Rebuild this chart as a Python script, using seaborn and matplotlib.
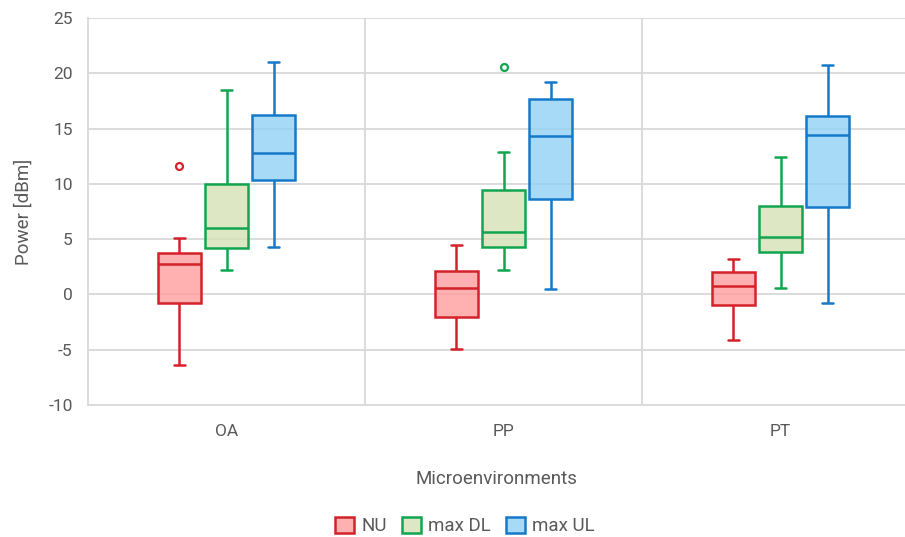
import pandas as pd
import matplotlib.pyplot as plt
import matplotlib.colors as mcolors
import seaborn as sns
from matplotlib.patches import Patch

environments = ['OA', 'PP', 'PT']
series = ['NU', 'max DL', 'max UL']

# five-number summaries: whisker low, Q1, median, Q3, whisker high
nu_stats = [[-6.35, -0.76, 2.72, 3.77, 5.08],
            [-4.96, -2.03, 0.54, 2.11, 4.44],
            [-4.08, -0.97, 0.78, 2.05, 3.17]]
dl_stats = [[2.17, 4.23, 6.04, 9.97, 18.46],
            [2.17, 4.29, 5.62, 9.43, 12.84],
            [0.57, 3.81, 5.17, 7.98, 12.45]]
ul_stats = [[4.32, 10.39, 12.78, 16.20, 21.00],
            [0.45, 8.67, 14.32, 17.65, 19.25],
            [-0.76, 7.89, 14.44, 16.17, 20.76]]

outlier_env = ['OA', 'PP']
outlier_series = ['NU', 'max DL']
outlier_value = [11.6, 20.58]

edge_colors = ['#D3222A', '#12A550', '#1479C9']
fill_colors = ['#FF9C9C', '#D5E2B6', '#90D1F5']

rows = []
for name, stats in zip(series, [nu_stats, dl_stats, ul_stats]):
    for env, vals in zip(environments, stats):
        for v in vals:
            rows.append({'env': env, 'series': name, 'power': v})
df = pd.DataFrame(rows)

sns.set_theme(style="white")
plt.rcParams['font.family'] = ['Roboto', 'DejaVu Sans']
plt.rcParams['axes.unicode_minus'] = False
grey = '#595959'

fig = plt.figure(figsize=(9.05, 5.37), dpi=100)
ax = fig.add_axes([88 / 905, 132 / 537, 817 / 905, 387 / 537])

box_width = 0.51
sns.boxplot(data=df, x='env', y='power', hue='series', order=environments,
            hue_order=series, width=box_width, gap=0.1, whis=(0, 100),
            linewidth=1.8, fliersize=0, legend=False, ax=ax, capwidths=0.04)

for cont, ec, fc in zip(ax.containers, edge_colors, fill_colors):
    for b in cont.boxes:
        b.set_alpha(None)
        b.set_facecolor((*mcolors.to_rgb(fc), 0.8))
        b.set_edgecolor(ec)
        b.set_zorder(3)
    for ln in list(cont.medians) + list(cont.whiskers) + list(cont.caps):
        ln.set_color(ec)
        ln.set_zorder(3)

for env, ser, val in zip(outlier_env, outlier_series, outlier_value):
    i = series.index(ser)
    xpos = environments.index(env) + (i - 1) * box_width / 3
    ax.plot(xpos, val, marker='o', ms=5, mfc='white', mec=edge_colors[i],
            mew=1.6, zorder=4)

ax.set_ylim(-10, 25)
ax.set_yticks(range(-10, 26, 5))
ax.set_xlim(-0.5, -0.5 + 817 / 277)
ax.yaxis.grid(True, color='#D9D9D9', linewidth=1.3, zorder=0)
ax.set_axisbelow(True)
for xv in [0.5, 1.5]:
    ax.axvline(xv, color='#D9D9D9', linewidth=1.3, zorder=0)

for side in ['top', 'right']:
    ax.spines[side].set_visible(False)
for side in ['left', 'bottom']:
    ax.spines[side].set_color('#D9D9D9')
    ax.spines[side].set_linewidth(1.3)

ax.tick_params(axis='both', length=0, labelsize=12.5, labelcolor=grey)
ax.tick_params(axis='x', pad=14)
ax.tick_params(axis='y', pad=11)
ax.set_xlabel('Microenvironments', fontsize=13.5, color=grey, labelpad=22)
ax.set_ylabel('Power [dBm]', fontsize=13.5, color=grey, labelpad=11)

handles = [Patch(facecolor=(*mcolors.to_rgb(fc), 0.8), edgecolor=ec,
                 linewidth=1.8, label=s)
           for s, ec, fc in zip(series, edge_colors, fill_colors)]
leg = fig.legend(handles=handles, loc='center', bbox_to_anchor=(465 / 905, 1 - 526 / 537),
                 ncol=3, frameon=False, fontsize=13.5, handlelength=1.0, handleheight=1.0,
                 handletextpad=0.4, columnspacing=0.8)
for t in leg.get_texts():
    t.set_color(grey)

fig.savefig('out.png', dpi=100)
